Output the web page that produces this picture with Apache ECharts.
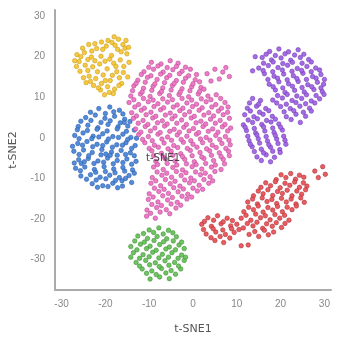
<!DOCTYPE html>
<html>
<head>
<meta charset="utf-8">
<script src="https://cdn.jsdelivr.net/npm/echarts@6/dist/echarts.min.js"></script>
<style>
  html, body { margin: 0; padding: 0; background: #fff; }
  #chart { width: 337px; height: 346px; }
</style>
</head>
<body>
<div id="chart"></div>
<script>
// cluster points (t-SNE1, t-SNE2)
const yellowPts = [
  [-26.5,20.5],[-25.2,22.1],[-24.0,19.3],[-23.1,21.4],[-22.4,23.2],[-21.0,20.1],[-19.8,22.6],[-18.5,23.5],
  [-17.2,21.8],[-16.0,23.0],[-15.1,20.7],[-16.6,19.2],[-18.1,18.4],[-19.6,17.0],[-21.3,18.2],[-22.9,17.5],
  [-24.6,17.9],[-25.8,16.4],[-23.7,15.2],[-22.2,14.6],[-20.5,15.5],[-18.9,14.1],[-17.4,16.3],[-15.8,17.6],
  [-14.9,15.0],[-16.3,13.4],[-17.9,12.0],[-19.5,12.6],[-21.1,11.8],[-20.2,10.6],[-22.7,12.9],[-24.4,13.6],
  [-26.0,18.8],[-20.6,21.8],[-23.8,23.0],[-18.6,20.3],[-17.0,24.3],[-21.8,16.3],[-19.0,19.4],[-15.5,22.1],
  [-25.0,14.8],[-23.2,19.9],[-16.8,14.8],[-18.2,10.9],[-20.9,13.4],
  [-27.0,19.0],[-25.6,20.0],[-24.8,21.0],[-22.0,22.0],[-20.9,23.6],[-19.4,24.0],[-17.8,22.8],[-16.4,21.2],
  [-14.7,22.3],[-14.6,18.6],[-15.9,16.1],[-17.6,17.6],[-20.1,18.9],[-22.4,19.0],[-24.0,16.6],[-20.0,14.1],
  [-18.4,15.4],[-16.9,12.9],[-19.1,11.2],[-23.4,13.9],[-21.6,12.3],[-26.6,17.6],[-18.0,24.9],[-15.3,24.0]
];
const bluePts = [
  [-21.5,7.2],[-19.0,7.6],[-16.8,6.8],
  [-24.5,5.0],[-22.3,5.6],[-20.1,4.8],[-17.9,5.3],[-15.6,4.6],
  [-26.2,2.8],[-24.0,3.1],[-21.7,2.5],[-19.4,3.3],[-17.1,2.7],[-14.9,2.9],[-13.4,1.9],
  [-27.0,0.6],[-25.1,1.2],[-22.8,0.4],[-20.6,1.0],[-18.3,0.3],[-16.0,0.9],[-14.2,0.1],
  [-26.3,-1.4],[-24.2,-0.9],[-21.9,-1.6],[-19.7,-1.0],[-17.4,-1.7],[-15.3,-1.2],[-13.2,-1.9],
  [-27.2,-3.3],[-25.0,-3.0],[-23.0,-3.6],[-20.8,-2.9],[-18.6,-3.5],[-16.4,-3.1],[-14.3,-3.7],
  [-26.1,-5.4],[-23.9,-5.1],[-21.7,-5.7],[-19.5,-5.0],[-17.3,-5.6],[-15.1,-5.2],[-13.0,-5.8],
  [-26.8,-7.5],[-24.7,-7.2],[-22.5,-7.8],[-20.3,-7.1],[-18.1,-7.7],[-16.0,-7.3],[-13.8,-7.9],
  [-25.6,-9.4],[-23.4,-9.1],[-21.2,-9.7],[-19.0,-9.2],[-16.8,-9.8],[-14.6,-9.3],
  [-23.0,-11.3],[-20.6,-11.8],[-18.3,-11.2],[-16.1,-11.9],[-14.0,-11.0],
  [-23.1,-0.2],[-18.9,-4.3],[-22.2,-8.5],[-16.2,-10.6],[-20.0,6.0],[-25.5,-6.3],[-15.7,3.8],[-21.0,-4.2],
  [-23.4,6.3],[-18.1,6.4],[-16.0,5.9],
  [-25.6,4.1],[-23.3,4.3],[-21.0,3.8],[-18.9,4.2],[-16.6,3.7],[-14.4,4.0],
  [-26.4,2.0],[-24.1,1.8],[-21.9,2.1],[-19.6,1.7],[-17.3,2.2],[-15.2,1.6],
  [-26.0,-0.2],[-21.5,0.2],[-19.3,-0.3],[-17.0,0.1],[-14.9,-0.4],[-12.9,-0.1],
  [-27.5,-2.1],[-25.2,-1.8],[-22.9,-2.2],[-20.6,-1.9],[-18.4,-2.3],[-16.1,-1.8],[-14.0,-2.6],
  [-26.0,-4.1],[-23.8,-4.4],[-19.9,-4.0],[-17.3,-4.3],[-15.4,-4.1],[-13.4,-4.4],
  [-27.1,-6.2],[-24.8,-5.9],[-22.6,-6.3],[-20.4,-6.0],[-18.2,-6.4],[-16.0,-6.1],[-14.0,-6.5],
  [-25.7,-8.1],[-20.0,-8.3],[-17.8,-8.6],[-15.6,-8.2],[-13.4,-8.7],
  [-24.3,-10.2],[-22.1,-10.4],[-19.9,-10.1],[-17.7,-10.5],[-15.4,-10.0],
  [-21.8,-12.2],[-19.4,-12.0],[-17.2,-12.3]
];
const pinkPts = [
  [-9.5,18.6],[-7.3,18.2],[-5.2,19.0],[-3.4,18.4],
  [-11.2,16.3],[-9.0,16.9],[-6.8,16.2],[-4.6,16.8],[-2.5,16.4],[-0.6,16.9],
  [-12.6,14.2],[-10.4,14.9],[-8.2,14.4],[-6.0,14.8],[-3.8,14.1],[-1.7,14.7],[0.5,14.3],
  [-13.5,12.8],[-11.3,12.2],[-9.1,12.7],[-6.9,12.3],[-4.7,12.9],[-2.5,12.1],[-0.3,12.6],[1.8,12.4],
  [-14.2,10.3],[-12.0,10.8],[-9.8,10.2],[-7.6,10.9],[-5.4,10.4],[-3.2,10.7],[-1.0,10.1],[1.2,10.8],[3.4,10.3],[5.3,10.6],
  [-14.6,8.7],[-12.4,8.2],[-10.2,8.9],[-8.0,8.4],[-5.8,8.8],[-3.6,8.1],[-1.4,8.6],[0.8,8.3],[3.0,8.9],[5.2,8.2],[7.3,8.7],
  [-14.0,6.2],[-11.8,6.8],[-9.6,6.3],[-7.4,6.9],[-5.2,6.1],[-3.0,6.7],[-0.8,6.4],[1.4,6.8],[3.6,6.2],[5.8,6.6],[7.9,6.3],
  [-13.6,4.8],[-11.4,4.3],[-9.2,4.9],[-7.0,4.2],[-4.8,4.7],[-2.6,4.4],[-0.4,4.9],[1.8,4.1],[4.0,4.6],[6.2,4.3],[8.3,4.8],
  [-13.1,2.2],[-10.9,2.8],[-8.7,2.4],[-6.5,2.9],[-4.3,2.1],[-2.1,2.6],[0.1,2.3],[2.3,2.8],[4.5,2.2],[6.7,2.7],[8.6,2.4],
  [-12.4,0.8],[-10.2,0.3],[-8.0,0.9],[-5.8,0.2],[-3.6,0.7],[-1.4,0.4],[0.8,0.9],[3.0,0.1],[5.2,0.6],[7.4,0.3],
  [-11.0,-1.2],[-8.8,-1.8],[-6.6,-1.3],[-4.4,-1.9],[-2.2,-1.1],[0.0,-1.6],[2.2,-1.2],[4.4,-1.8],[6.6,-1.4],[8.5,-1.7],
  [-9.4,-3.2],[-7.2,-3.8],[-5.0,-3.3],[-2.8,-3.9],[-0.6,-3.1],[1.6,-3.6],[3.8,-3.2],[6.0,-3.7],[8.1,-3.3],
  [-8.5,-5.8],[-6.3,-5.2],[-4.1,-5.7],[-1.9,-5.3],[0.3,-5.9],[2.5,-5.1],[4.7,-5.6],[6.9,-5.3],
  [-9.0,-7.2],[-6.8,-7.8],[-4.6,-7.3],[-2.4,-7.9],[-0.2,-7.1],[2.0,-7.7],[4.2,-7.2],[6.4,-7.8],
  [-9.3,-9.8],[-7.1,-9.2],[-4.9,-9.7],[-2.7,-9.3],[-0.5,-9.9],[1.7,-9.1],[3.9,-9.6],
  [-9.6,-11.2],[-7.4,-11.8],[-5.2,-11.3],[-3.0,-11.9],[-0.8,-11.1],[1.4,-11.7],[3.6,-11.2],
  [-10.0,-13.8],[-7.8,-13.2],[-5.6,-13.7],[-3.4,-13.3],[-1.2,-13.9],[1.0,-13.1],
  [-10.2,-15.2],[-8.0,-15.8],[-5.8,-15.3],[-3.6,-15.9],[-1.4,-15.1],
  [-10.5,-17.8],[-8.3,-17.2],[-6.1,-17.7],[-3.9,-17.3],
  [-10.6,-19.3],[-8.6,-19.8],
  [3.2,15.8],[5.0,16.9],[6.8,16.2],[8.3,15.1],[4.1,14.0],[6.0,14.5],[7.5,17.3],
  [-10.1,17.4],[-8.0,17.7],[-5.9,17.3],[-3.8,17.6],[-1.7,17.4],
  [-11.8,15.6],[-9.6,15.3],[-7.4,15.7],[-5.3,15.4],[-3.1,15.8],[-1.0,15.3],[0.8,15.6],
  [-13.0,13.4],[-10.9,13.7],[-8.7,13.3],[-6.5,13.6],[-4.3,13.4],[-2.2,13.7],[0.0,13.3],[1.5,13.8],
  [-13.8,11.6],[-11.6,11.3],[-9.4,11.7],[-7.2,11.4],[-5.0,11.8],[-2.9,11.3],[-0.7,11.6],[1.5,11.4],[2.5,12.0],
  [-13.5,9.4],[-11.3,9.7],[-9.1,9.3],[-6.9,9.6],[-4.7,9.4],[-2.5,9.7],[-0.3,9.3],[1.9,9.6],[4.1,9.4],[6.3,9.7],
  [-13.3,7.6],[-11.1,7.3],[-8.9,7.7],[-6.7,7.4],[-4.5,7.6],[-2.3,7.3],[-0.1,7.7],[2.1,7.4],[4.3,7.6],[6.5,7.3],[8.0,7.6],
  [-12.9,5.4],[-10.7,5.7],[-8.5,5.3],[-6.3,5.6],[-4.1,5.4],[-1.9,5.7],[0.3,5.3],[2.5,5.6],[4.7,5.4],[6.9,5.7],
  [-12.5,3.6],[-10.3,3.3],[-8.1,3.7],[-5.9,3.4],[-3.7,3.6],[-1.5,3.3],[0.7,3.7],[2.9,3.4],[5.1,3.6],[7.3,3.3],
  [-11.9,1.4],[-9.7,1.7],[-7.5,1.3],[-5.3,1.6],[-3.1,1.4],[-0.9,1.7],[1.3,1.3],[3.5,1.6],[5.7,1.4],[7.9,1.7],
  [-11.5,-0.4],[-9.3,-0.7],[-7.1,-0.3],[-4.9,-0.6],[-2.7,-0.4],[-0.5,-0.7],[1.7,-0.3],[3.9,-0.6],[6.1,-0.4],[8.2,-0.6],
  [-10.0,-2.6],[-7.9,-2.3],[-5.7,-2.7],[-3.5,-2.4],[-1.3,-2.6],[0.9,-2.3],[3.1,-2.7],[5.3,-2.4],[7.5,-2.6],
  [-9.0,-4.4],[-6.8,-4.7],[-4.6,-4.3],[-2.4,-4.6],[-0.2,-4.4],[2.0,-4.7],[4.2,-4.3],[6.4,-4.6],[8.3,-4.4],
  [-8.1,-6.6],[-5.9,-6.3],[-3.7,-6.7],[-1.5,-6.4],[0.7,-6.6],[2.9,-6.3],[5.1,-6.7],[7.2,-6.4],
  [-8.2,-8.4],[-6.0,-8.7],[-3.8,-8.3],[-1.6,-8.6],[0.6,-8.4],[2.8,-8.7],[5.0,-8.3],
  [-8.5,-10.6],[-6.3,-10.3],[-4.1,-10.7],[-1.9,-10.4],[0.3,-10.6],[2.5,-10.3],[4.5,-10.6],
  [-8.8,-12.4],[-6.6,-12.7],[-4.4,-12.3],[-2.2,-12.6],[0.0,-12.4],[2.2,-12.7],
  [-9.1,-14.6],[-6.9,-14.3],[-4.7,-14.7],[-2.5,-14.4],[-0.3,-14.6],
  [-9.4,-16.4],[-7.2,-16.7],[-5.0,-16.3],[-2.8,-16.6],
  [-9.7,-18.6],[-7.5,-18.3],[-5.3,-18.7]
];
const purplePts = [
  [17.5,21.3],[19.6,21.9],[21.8,21.2],[24.0,21.7],
  [15.8,19.8],[17.9,19.2],[20.1,19.7],[22.3,19.1],[24.5,19.8],[26.4,19.3],
  [15.0,17.2],[17.2,17.8],[19.4,17.3],[21.6,17.9],[23.8,17.1],[26.0,17.6],[28.0,17.2],
  [16.3,15.8],[18.5,15.2],[20.7,15.7],[22.9,15.3],[25.1,15.9],[27.3,15.1],[29.2,15.6],
  [17.4,13.2],[19.6,13.8],[21.8,13.3],[24.0,13.9],[26.2,13.1],[28.4,13.7],[29.8,13.2],
  [18.8,11.8],[21.0,11.2],[23.2,11.7],[25.4,11.3],[27.6,11.9],[29.5,11.4],
  [18.2,9.3],[20.4,9.8],[22.6,9.2],[24.8,9.7],[27.0,9.1],[28.9,9.6],
  [20.0,7.7],[22.2,7.2],[24.4,7.8],[26.6,7.3],
  [21.3,5.2],[23.5,5.8],[25.7,5.3],
  [14.2,20.0],[13.6,16.5],[24.5,3.8],
  [13.6,9.7],[15.4,9.2],
  [12.4,7.3],[14.5,7.8],[16.6,7.2],
  [11.8,5.7],[13.9,5.2],[16.0,5.8],[18.1,5.3],
  [11.5,3.2],[13.6,3.8],[15.7,3.3],[17.8,3.9],[19.6,3.4],
  [12.2,1.8],[14.3,1.2],[16.4,1.7],[18.5,1.3],[20.4,1.9],
  [12.8,-0.7],[14.9,-0.2],[17.0,-0.8],[19.1,-0.3],[21.0,-0.6],
  [13.5,-2.2],[15.6,-2.8],[17.7,-2.3],[19.8,-2.9],
  [14.6,-4.7],[16.7,-4.2],[18.6,-4.8],
  [16.7,20.6],[18.8,20.3],[21.0,20.7],[23.2,20.4],[25.3,20.6],
  [16.1,18.4],[18.3,18.7],[20.5,18.3],[22.7,18.6],[24.9,18.4],[27.0,18.7],
  [16.0,16.6],[18.2,16.3],[20.4,16.7],[22.6,16.4],[24.8,16.6],[27.0,16.3],[28.9,16.7],
  [17.1,14.4],[19.3,14.7],[21.5,14.3],[23.7,14.6],[25.9,14.4],[28.1,14.7],[30.0,14.4],
  [18.3,12.6],[20.5,12.3],[22.7,12.7],[24.9,12.4],[27.1,12.6],[29.2,12.3],
  [19.3,10.4],[21.5,10.7],[23.7,10.3],[25.9,10.6],[28.1,10.4],[29.9,10.7],
  [19.1,8.6],[21.3,8.3],[23.5,8.7],[25.7,8.4],[27.8,8.6],
  [20.8,6.4],[23.0,6.7],[25.2,6.3],[27.0,6.6],
  [22.4,4.5],
  [12.9,8.6],[15.0,8.3],
  [13.1,6.6],[15.2,6.3],[17.3,6.7],
  [12.6,4.4],[14.7,4.7],[16.8,4.3],[18.8,4.6],
  [11.9,2.6],[14.0,2.3],[16.1,2.7],[18.2,2.4],[20.0,2.6],
  [12.5,0.4],[14.6,0.7],[16.7,0.3],[18.8,0.6],[20.7,0.4],
  [13.1,-1.6],[15.2,-1.3],[17.3,-1.7],[19.4,-1.4],[21.2,-1.6],
  [14.0,-3.4],[16.1,-3.7],[18.2,-3.3],[19.9,-3.6],
  [15.6,-5.6],[17.7,-5.9]
];
const redPts = [
  [19.0,-10.3],[21.2,-9.8],[23.4,-10.2],[25.3,-9.7],
  [15.5,-12.2],[17.7,-11.8],[19.9,-12.3],[22.1,-11.7],[24.3,-12.2],[26.0,-11.9],
  [13.8,-14.3],[16.0,-13.8],[18.2,-14.2],[20.4,-13.7],[22.6,-14.3],[24.8,-13.9],
  [12.5,-15.8],[14.7,-16.3],[16.9,-15.7],[19.1,-16.2],[21.3,-15.8],[23.5,-16.3],[25.4,-15.9],
  [11.6,-18.2],[13.8,-17.7],[16.0,-18.3],[18.2,-17.8],[20.4,-18.2],[22.6,-17.7],
  [11.0,-19.8],[13.2,-20.3],[15.4,-19.7],[17.6,-20.2],[19.8,-19.8],[21.9,-20.3],
  [11.5,-22.2],[13.7,-21.7],[15.9,-22.3],[18.1,-21.8],[20.2,-22.1],
  [12.8,-23.8],[15.0,-24.3],[17.2,-23.9],
  [3.4,-19.7],[5.6,-19.2],[7.8,-19.8],
  [2.0,-21.3],[4.2,-21.8],[6.4,-21.2],[8.6,-21.7],[10.0,-21.3],
  [3.0,-23.7],[5.2,-23.2],[7.4,-23.8],[9.4,-23.3],
  [5.0,-25.3],[7.0,-25.8],
  [11.0,-26.6],[12.6,-26.4],
  [27.8,-8.2],[29.6,-7.1],[28.6,-9.8],[30.2,-9.0],
  [20.1,-9.1],[22.3,-8.8],[24.3,-9.2],
  [16.6,-11.1],[18.8,-10.8],[21.0,-11.2],[23.2,-10.9],[25.2,-11.1],
  [14.9,-13.1],[17.1,-12.8],[19.3,-13.2],[21.5,-12.9],[23.7,-13.1],[25.7,-12.8],
  [13.6,-15.1],[15.8,-14.8],[18.0,-15.2],[20.2,-14.9],[22.4,-15.1],[24.6,-14.8],
  [12.7,-17.1],[14.9,-16.8],[17.1,-17.2],[19.3,-16.9],[21.5,-17.1],[23.6,-16.8],
  [12.1,-19.1],[14.3,-18.8],[16.5,-19.2],[18.7,-18.9],[20.9,-19.1],
  [12.4,-21.1],[14.6,-20.8],[16.8,-21.2],[19.0,-20.9],[21.0,-21.1],
  [14.1,-23.1],[16.3,-22.8],[18.4,-23.2],
  [2.6,-20.6],[4.7,-20.3],[6.9,-20.7],[9.0,-20.4],
  [2.4,-22.6],[4.6,-22.4],[6.8,-22.7],[8.8,-22.4],[10.5,-22.6],
  [4.1,-24.6],[6.2,-24.3],[8.4,-24.7]
];
const greenPts = [
  [-10.0,-22.7],[-7.8,-22.2],[-5.6,-22.8],
  [-12.6,-24.2],[-10.4,-24.8],[-8.2,-24.3],[-6.0,-24.9],[-3.8,-24.4],
  [-14.2,-26.8],[-12.0,-26.2],[-9.8,-26.7],[-7.6,-26.3],[-5.4,-26.9],[-3.2,-26.4],
  [-13.6,-28.3],[-11.4,-28.8],[-9.2,-28.2],[-7.0,-28.7],[-4.8,-28.3],[-2.6,-28.9],
  [-13.0,-30.7],[-10.8,-30.2],[-8.6,-30.8],[-6.4,-30.3],[-4.2,-30.7],[-2.0,-30.2],
  [-11.6,-32.3],[-9.4,-32.8],[-7.2,-32.2],[-5.0,-32.7],[-2.8,-32.3],
  [-9.8,-34.8],[-7.6,-34.3],[-5.4,-34.7],
  [-11.3,-23.6],[-9.0,-23.3],[-6.8,-23.7],[-4.6,-23.4],
  [-13.3,-25.4],[-11.1,-25.7],[-8.9,-25.3],[-6.7,-25.6],[-4.5,-25.4],[-2.6,-25.7],
  [-12.8,-27.6],[-10.6,-27.3],[-8.4,-27.7],[-6.2,-27.4],[-4.0,-27.6],[-2.0,-27.3],
  [-14.2,-29.4],[-12.2,-29.7],[-10.0,-29.3],[-7.8,-29.6],[-5.6,-29.4],[-3.4,-29.7],[-1.7,-29.4],
  [-12.2,-31.6],[-9.9,-31.3],[-7.7,-31.7],[-5.5,-31.4],[-3.3,-31.6],
  [-10.6,-33.4],[-8.4,-33.7],[-6.2,-33.3],[-4.0,-33.6]
];
const tickValues = [-30, -20, -10, 0, 10, 20, 30];

const chart = echarts.init(document.getElementById('chart'));

function dots(data, fill, edge) {
  return {
    type: 'scatter',
    data: data,
    symbolSize: 4.5,
    itemStyle: { color: fill, borderColor: edge, borderWidth: 0.6, opacity: 0.95 },
    silent: true
  };
}

const option = {
  backgroundColor: '#fff',
  animation: false,
  grid: { left: 55, right: 6, top: 10, bottom: 56 },
  xAxis: {
    type: 'value',
    min: -31.5,
    max: 31.5,
    name: 't-SNE1',
    nameLocation: 'middle',
    nameGap: 34,
    nameTextStyle: { color: '#555', fontSize: 11, fontFamily: 'DejaVu Sans' },
    axisLine: { onZero: false, lineStyle: { color: '#aaa', width: 2 } },
    axisTick: { show: false },
    splitLine: { show: false },
    axisLabel: { customValues: tickValues, color: '#888', fontSize: 10, margin: 9 }
  },
  yAxis: {
    type: 'value',
    min: -37.5,
    max: 31.5,
    name: 't-SNE2',
    nameLocation: 'middle',
    nameGap: 36,
    nameTextStyle: { color: '#555', fontSize: 11, fontFamily: 'DejaVu Sans' },
    axisLine: { show: true, onZero: false, lineStyle: { color: '#aaa', width: 2 } },
    axisTick: { show: false },
    splitLine: { show: false },
    axisLabel: { customValues: tickValues, color: '#888', fontSize: 10, margin: 10 }
  },
  graphic: [{
    type: 'text',
    left: 146,
    top: 153,
    z: 100,
    style: { text: 't-SNE1', fill: '#444', font: '10px DejaVu Sans' }
  }],
  series: [
    dots(yellowPts, '#f4c63a', '#c99a10'),
    dots(bluePts, '#4a86d8', '#2a5aa8'),
    dots(pinkPts, '#ec74c4', '#b8468f'),
    dots(purplePts, '#a064e4', '#6e38b4'),
    dots(redPts, '#e8545a', '#ae2c34'),
    dots(greenPts, '#66c25a', '#3c8c34')
  ]
};

chart.setOption(option);
</script>
</body>
</html>
